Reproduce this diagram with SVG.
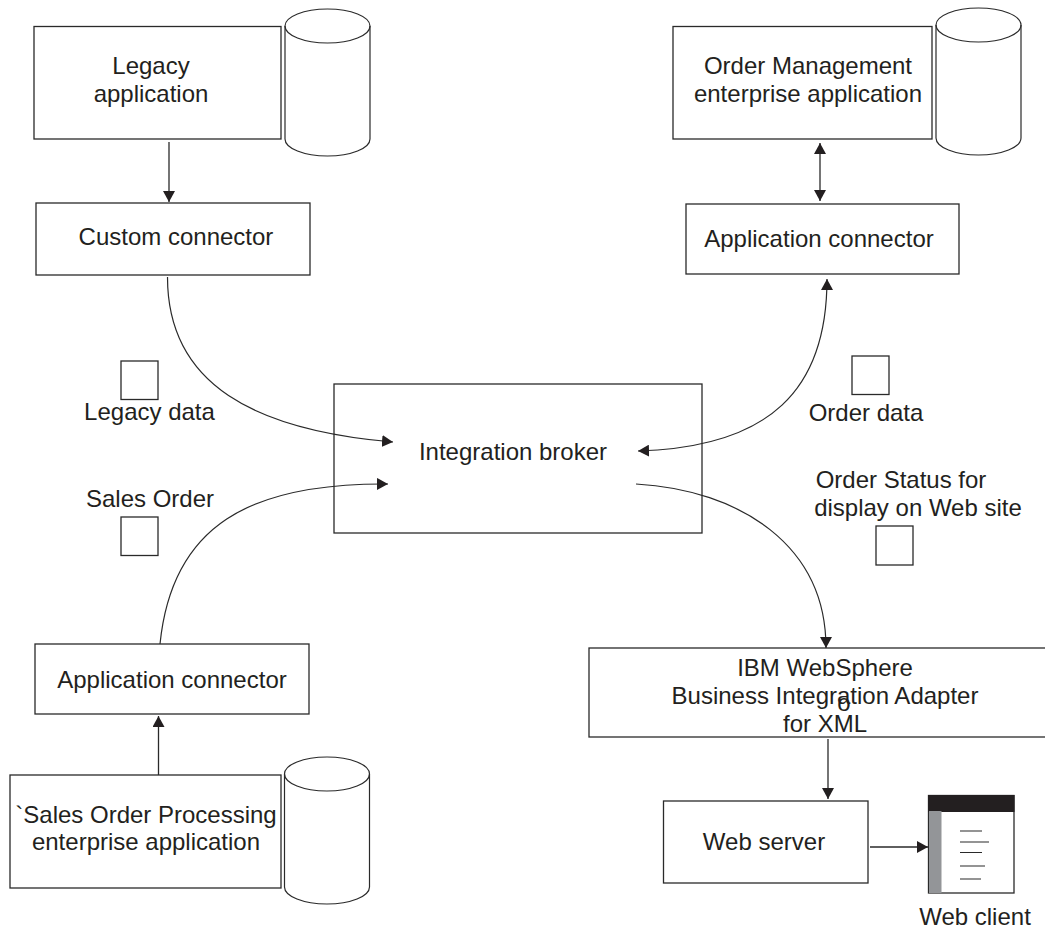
<svg xmlns="http://www.w3.org/2000/svg" width="1045" height="930" viewBox="0 0 1045 930">
<style>
.b{fill:#fff;stroke:#2a2a2a;stroke-width:1.3}
.c{fill:none;stroke:#2a2a2a;stroke-width:1.2}
.k{fill:none;stroke:#2a2a2a;stroke-width:1.3}
text{font-family:"Liberation Sans",Arial,sans-serif;font-size:24px;fill:#231f20;text-anchor:middle}
</style>
<defs>
<marker id="a" viewBox="0 0 11 12" refX="11" refY="6" markerWidth="11" markerHeight="12" markerUnits="userSpaceOnUse" orient="auto-start-reverse"><path d="M0 0L11 6L0 12Z" fill="#231f20"/></marker>
<g id="db"><path class="c" d="M0 17A42.500 17 0 0 1 85 17V130A42.500 17 0 0 1 0 130Z"/><path class="c" d="M0 17A42.500 17 0 0 0 85 17"/></g>
</defs>
<rect width="1045" height="930" fill="#fff"/>
<g id="legacy-application"><rect class="b" x="34" y="26.500" width="247" height="112.500"/><text x="151" y="74">Legacy</text><text x="151" y="102">application</text></g>
<g id="legacy-db"><use href="#db" x="285" y="9"/></g>
<g id="custom-connector"><rect class="b" x="36" y="203" width="274" height="72"/><text x="176" y="245">Custom connector</text></g>
<g id="order-management"><rect class="b" x="673" y="26.500" width="259" height="112.500"/><text x="808" y="74">Order Management</text><text x="808" y="102">enterprise application</text></g>
<g id="order-db"><use href="#db" x="936" y="8"/></g>
<g id="application-connector-top"><rect class="b" x="686" y="204" width="273" height="70"/><text x="819" y="247">Application connector</text></g>
<g id="legacy-data"><rect class="b" x="121" y="361" width="37" height="38.500"/><text x="149.500" y="420">Legacy data</text></g>
<g id="order-data"><rect class="b" x="852" y="356" width="37" height="38.500"/><text x="866" y="421">Order data</text></g>
<g id="integration-broker"><rect class="b" x="334" y="384" width="368" height="149"/><text x="513" y="460">Integration broker</text></g>
<g id="sales-order"><text x="150" y="507">Sales Order</text><rect class="b" x="121" y="517" width="37" height="38.500"/></g>
<g id="order-status"><text x="901" y="488">Order Status for</text><text x="918" y="516">display on Web site</text><rect class="b" x="876" y="526" width="37" height="39"/></g>
<g id="application-connector-bottom"><rect class="b" x="35" y="644" width="274" height="70"/><text x="172" y="688">Application connector</text></g>
<g id="sales-order-processing"><rect class="b" x="10" y="775" width="271" height="113"/><text x="146" y="823">`Sales Order Processing</text><text x="146" y="850">enterprise application</text></g>
<g id="sales-db"><use href="#db" x="284.500" y="757"/></g>
<g id="adapter"><rect class="b" x="589" y="648" width="470" height="89"/><text x="825" y="676">IBM WebSphere</text><text x="825" y="704">Business Integration Adapter</text><text x="844" y="711">o</text><text x="825" y="732">for XML</text></g>
<g id="web-server"><rect class="b" x="663.500" y="801" width="204.500" height="82"/><text x="764" y="850">Web server</text></g>
<g id="web-client"><rect class="b" x="928.500" y="795.500" width="85.500" height="97.500"/><rect x="928" y="795" width="86.500" height="17" fill="#231f20"/><rect x="929" y="811" width="12.500" height="82" fill="#939598"/><path class="c" d="M960 831H982M960 842H989M960 852.500H982M960 866H985M960 879H981"/><text x="975" y="925">Web client</text></g>
<g id="connectors">
<path class="k" d="M169 142V202" marker-end="url(#a)"/>
<path class="c" d="M167.500 277C167.500 385 255 430 393 442" marker-end="url(#a)"/>
<path class="c" d="M160 644C172 525 250 483 388 484" marker-end="url(#a)"/>
<path class="k" d="M158.500 775V716" marker-end="url(#a)"/>
<path class="k" d="M820 143V201" marker-start="url(#a)" marker-end="url(#a)"/>
<path class="c" d="M827 279C827 390 770 447 638 451" marker-start="url(#a)" marker-end="url(#a)"/>
<path class="c" d="M636 484C740 490 826 545 826 648" marker-end="url(#a)"/>
<path class="k" d="M828 739V799" marker-end="url(#a)"/>
<path class="k" d="M870 847H928" marker-end="url(#a)"/>
</g>
</svg>
